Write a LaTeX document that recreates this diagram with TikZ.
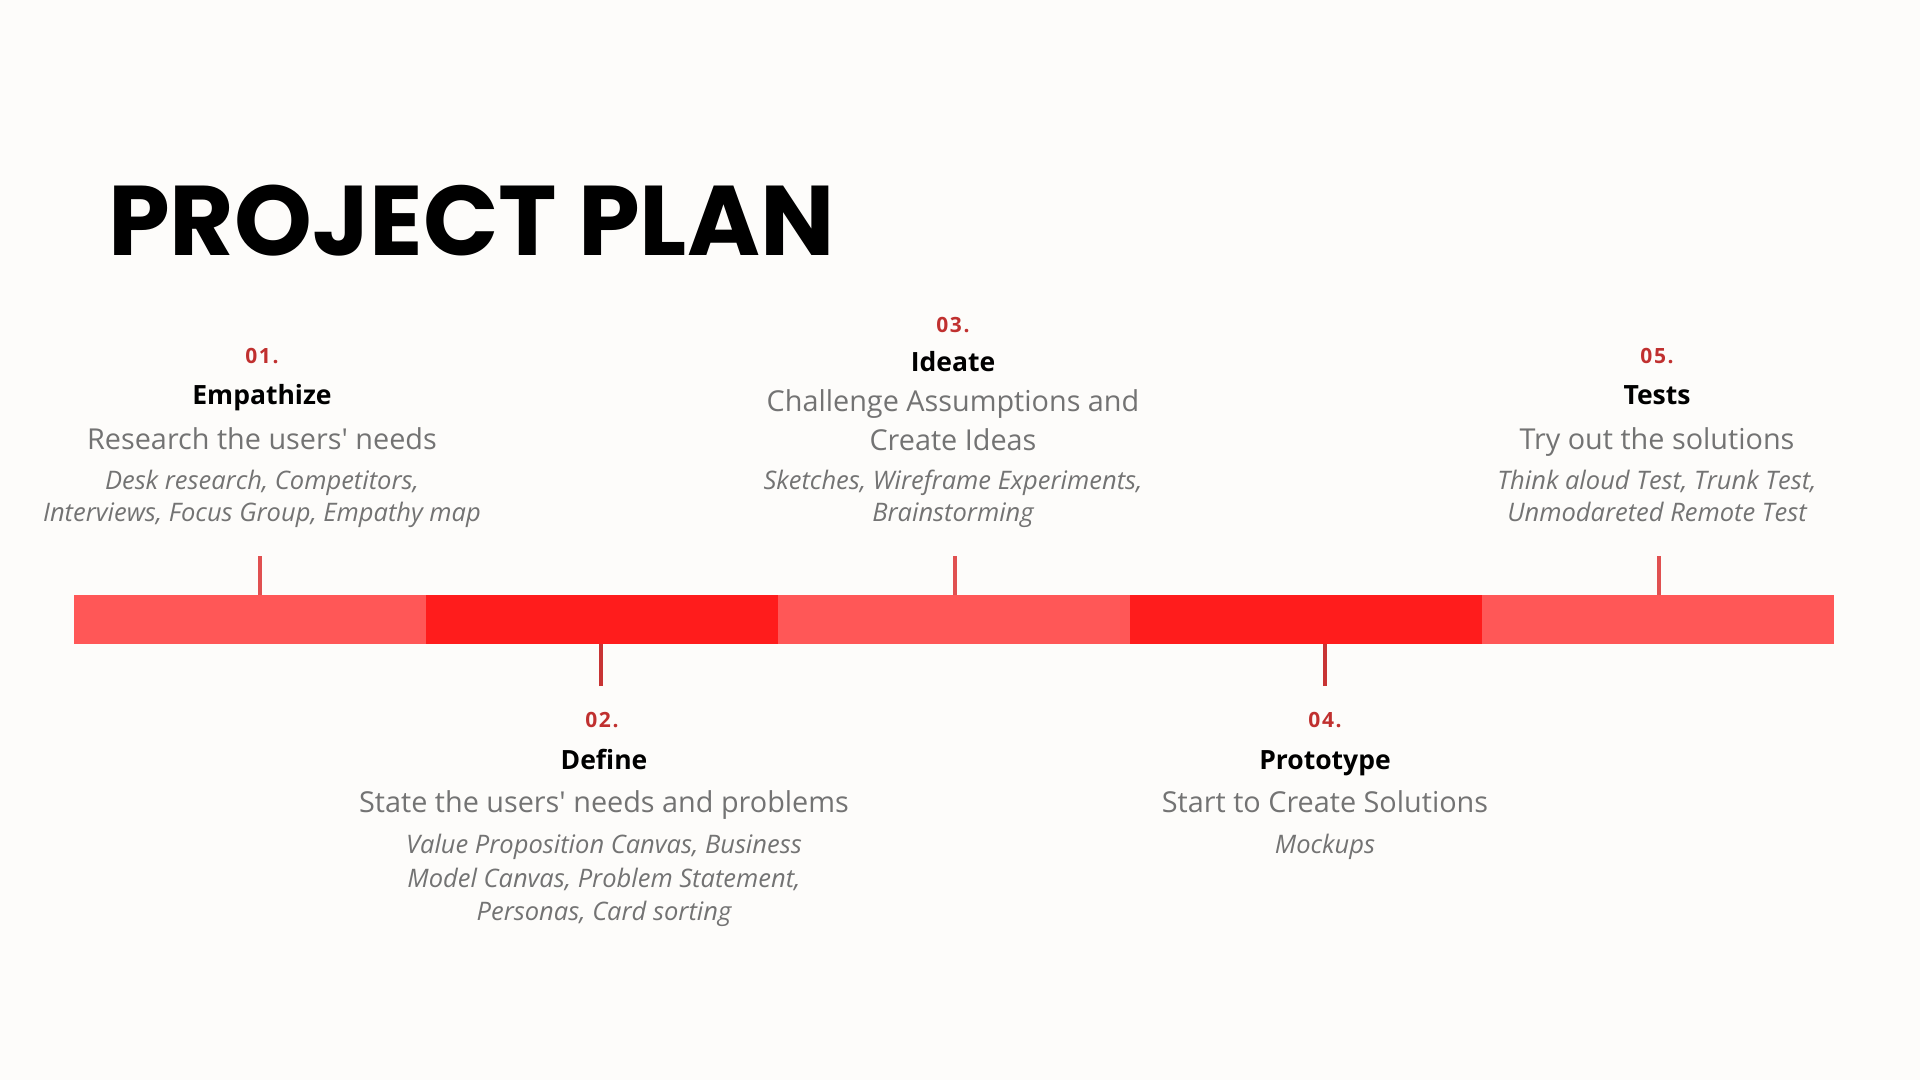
\documentclass[tikz,border=0pt]{standalone}
\usepackage{fontspec}
\setmainfont{Open Sans}[Ligatures=TeXOff]
\newfontfamily\titlefont{Poppins}
\newfontfamily\numfont{Open Sans}[LetterSpace=8]
\definecolor{bg}{HTML}{FDFCFA}
\definecolor{seglight}{HTML}{FF5757}
\definecolor{segdark}{HTML}{FF1C1C}
\definecolor{tickup}{HTML}{E05050}
\definecolor{tickdown}{HTML}{C83434}
\definecolor{numred}{HTML}{C0302F}
\definecolor{desc}{HTML}{737373}
\tikzset{
  segL/.style={fill=seglight, draw=none, minimum width=352pt, minimum height=49pt, anchor=north west, inner sep=0pt},
  segD/.style={fill=segdark, draw=none, minimum width=352pt, minimum height=49pt, anchor=north west, inner sep=0pt},
  tickU/.style={draw=tickup, line width=4pt},
  tickD/.style={draw=tickdown, line width=4pt},
  numtxt/.style={font=\numfont\bfseries\fontsize{21}{25}\selectfont, text=numred},
  headtxt/.style={font=\bfseries\fontsize{26.5}{30}\selectfont, text=black},
  desctxt/.style={font=\fontsize{28.8}{33}\selectfont, text=desc},
  ittxt/.style={font=\itshape\fontsize{25.5}{30}\selectfont, text=desc},
}
\begin{document}
\begin{tikzpicture}[x=1pt,y=-1pt, every node/.style={inner sep=0pt, anchor=base}]
\fill[bg] (0,0) rectangle (1920,1080);
\useasboundingbox (0,0) rectangle (1920,1080);

% title
\node[anchor=base west, font=\titlefont\bfseries\fontsize{99}{110}\selectfont] (title) at (108,255) {PROJECT PLAN};

% bar
\node[segL] (s1) at (73.5,595) {};
\node[segD] (s2) at (425.5,595) {};
\node[segL] (s3) at (777.5,595) {};
\node[segD] (s4) at (1129.5,595) {};
\node[segL] (s5) at (1481.5,595) {};

% ticks
\coordinate (t1) at (260,556);
\coordinate (t3) at (955,556);
\coordinate (t5) at (1659,556);
\coordinate (t2) at (601,686);
\coordinate (t4) at (1325,686);
\draw[tickU] (t1) -- (t1 |- s1.north);
\draw[tickU] (t3) -- (t3 |- s3.north);
\draw[tickU] (t5) -- (t5 |- s5.north);
\draw[tickD] (t2) -- (t2 |- s2.south);
\draw[tickD] (t4) -- (t4 |- s4.south);

% block 1
\node[numtxt] (n1) at (262,363) {01.};
\node[headtxt] (h1) at (262,404) {Empathize};
\node[desctxt] (d1) at (262,449) {Research the users' needs};
\node[ittxt] (i1a) at (262,489) {Desk research, Competitors,};
\node[ittxt] (i1b) at (262,521) {Interviews, Focus Group, Empathy map};

% block 3
\node[numtxt] (n3) at (953,332) {03.};
\node[headtxt] (h3) at (953,371) {Ideate};
\node[desctxt] (d3a) at (953,411) {Challenge Assumptions and};
\node[desctxt] (d3b) at (953,450) {Create Ideas};
\node[ittxt] (i3a) at (953,489) {Sketches, Wireframe Experiments,};
\node[ittxt] (i3b) at (953,521) {Brainstorming};

% block 5
\node[numtxt] (n5) at (1657,363) {05.};
\node[headtxt] (h5) at (1657,404) {Tests};
\node[desctxt] (d5) at (1657,449) {Try out the solutions};
\node[ittxt] (i5a) at (1657,489) {Think aloud Test, Trunk Test,};
\node[ittxt] (i5b) at (1657,521) {Unmodareted Remote Test};

% block 2
\node[numtxt] (n2) at (602,727) {02.};
\node[headtxt] (h2) at (604,769) {Define};
\node[desctxt] (d2) at (604,812) {State the users' needs and problems};
\node[ittxt] (i2a) at (604,853) {Value Proposition Canvas, Business};
\node[ittxt] (i2b) at (604,887) {Model Canvas, Problem Statement,};
\node[ittxt] (i2c) at (604,920) {Personas, Card sorting};

% block 4
\node[numtxt] (n4) at (1325,727) {04.};
\node[headtxt] (h4) at (1325,769) {Prototype};
\node[desctxt] (d4) at (1325,812) {Start to Create Solutions};
\node[ittxt] (i4) at (1325,853) {Mockups};
\end{tikzpicture}
\end{document}
